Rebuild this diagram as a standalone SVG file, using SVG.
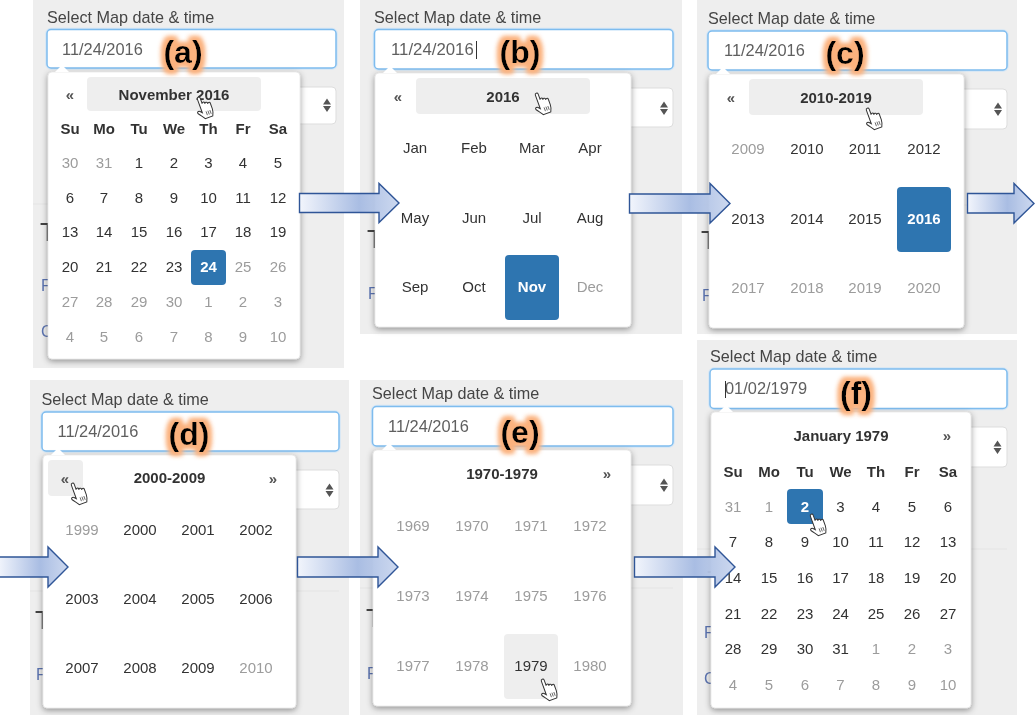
<svg xmlns="http://www.w3.org/2000/svg" width="1035" height="715" viewBox="0 0 1035 715">
<style>
text{font-family:"Liberation Sans",Arial,sans-serif}
.panel{filter:url(#soft)}
.pn{fill:#eee}
.dv{stroke:#e4e4e4;stroke-width:1}
.sel{fill:#fff;stroke:#ddd;stroke-width:1}
.inp{fill:#fff;stroke:#7ebcee;stroke-width:1.5}
.ing{fill:none;stroke:#d4e6f6;stroke-width:3.5}
.pop{fill:#fff;stroke:#d8d8d8;stroke-width:.5;filter:url(#sh)}
.car{fill:#fff}
.ar{fill:#555}
.hv{fill:#eee}
.act{fill:#2f74b0}
.lb{font-size:16.2px;fill:#444}
.dt{font-size:16.4px;fill:#5f5f5f}
.tg{font-size:32px;font-weight:bold;fill:#000;text-anchor:middle;filter:url(#gl)}
.t{font-size:15px;fill:#333;text-anchor:middle}
.g{font-size:15px;fill:#9c9c9c;text-anchor:middle}
.b{font-size:15px;font-weight:bold;fill:#333;text-anchor:middle}
.w{font-size:15px;font-weight:bold;fill:#fff;text-anchor:middle}
.n{font-size:15px;fill:#555;text-anchor:middle;font-weight:bold}
.big{font-size:26px;fill:#444}
.lk{font-size:16px;fill:#5b73b0}
.cu{stroke:#333;stroke-width:1}
.arw{fill:url(#ag);stroke:#2f5597;stroke-width:1.4}
.hand{fill:#fff;stroke:#333;stroke-width:1}
.hl{fill:none;stroke:#555;stroke-width:.8}
</style>
<defs>
<filter id="soft" x="-2%" y="-2%" width="104%" height="104%"><feGaussianBlur stdDeviation=".4"/></filter>
<filter id="sh" x="-10%" y="-10%" width="120%" height="120%"><feDropShadow dx="0" dy="2" stdDeviation="3" flood-color="#000" flood-opacity=".4"/></filter>
<filter id="gl" x="-40%" y="-40%" width="180%" height="180%"><feMorphology in="SourceAlpha" operator="dilate" radius="2.500"/><feGaussianBlur stdDeviation="2.400" result="b"/><feFlood flood-color="#fbb27e"/><feComposite in2="b" operator="in" result="c"/><feMerge><feMergeNode in="c"/><feMergeNode in="c"/><feMergeNode in="SourceGraphic"/></feMerge></filter>
<linearGradient id="ag" x1="0" y1="0" x2="1" y2="0"><stop offset="0" stop-color="#f2f5fc"/><stop offset=".6" stop-color="#a9bde3"/><stop offset="1" stop-color="#c3d1ec" stop-opacity=".85"/></linearGradient>
<g id="hnd"><g transform="rotate(-20)"><path class="hand" d="M-4.500-10c0-2 3-2 3 0v6c0-1.600 2.600-1.600 2.600 0v1c0-1.500 2.600-1.500 2.600 0v1c0-1.400 2.600-1.400 2.600 0v6c0 3-1 5-2 7h-8c-1-2-3-4-5-7-1-1.500 1-3 2.500-1.500l1.700 2z"/><path class="hl" d="M-.5 4.500v4M1.500 4.500v4M3.500 4.500v4"/></g></g>
<g id="spin"><path class="ar" d="M0-6.500l4 6h-8zM0 7l4-6h-8z"/></g>
</defs>
<g id="panel-a" class="panel">
<rect class="pn" x="33" y="0" width="311" height="368"/>
<line class="dv" x1="33" y1="204" x2="336" y2="204"/>
<text class="big" x="40" y="241">T</text>
<text class="lk" x="41" y="291">F</text>
<text class="lk" x="41" y="337">C</text>
<rect class="sel" x="280" y="87" width="56" height="37" rx="4"/>
<use href="#spin" x="327" y="105"/>
<text class="lb" x="47" y="23">Select Map date &amp; time</text>
<rect class="ing" x="47" y="29.500" width="289" height="38.500" rx="4"/>
<rect class="inp" x="47" y="29.500" width="289" height="38.500" rx="4"/>
<text class="dt" x="62" y="54.500">11/24/2016</text>
<rect class="pop" x="48" y="72" width="252" height="287" rx="4"/>
<path class="car" d="M55 72l7-7 7 7z"/>
<rect class="hv" x="87" y="77" width="174" height="34" rx="4"/>
<text class="n" x="70" y="100">«</text>
<text class="b" x="174" y="100">November 2016</text>
<text class="b" x="70" y="134">Su</text><text class="b" x="104" y="134">Mo</text><text class="b" x="139" y="134">Tu</text><text class="b" x="174" y="134">We</text><text class="b" x="208.500" y="134">Th</text><text class="b" x="243" y="134">Fr</text><text class="b" x="278" y="134">Sa</text>
<text class="g" x="70" y="168">30</text><text class="g" x="104" y="168">31</text><text class="t" x="139" y="168">1</text><text class="t" x="174" y="168">2</text><text class="t" x="208.500" y="168">3</text><text class="t" x="243" y="168">4</text><text class="t" x="278" y="168">5</text>
<text class="t" x="70" y="203">6</text><text class="t" x="104" y="203">7</text><text class="t" x="139" y="203">8</text><text class="t" x="174" y="203">9</text><text class="t" x="208.500" y="203">10</text><text class="t" x="243" y="203">11</text><text class="t" x="278" y="203">12</text>
<text class="t" x="70" y="237">13</text><text class="t" x="104" y="237">14</text><text class="t" x="139" y="237">15</text><text class="t" x="174" y="237">16</text><text class="t" x="208.500" y="237">17</text><text class="t" x="243" y="237">18</text><text class="t" x="278" y="237">19</text>
<rect class="act" x="191" y="250" width="35" height="35" rx="4"/>
<text class="t" x="70" y="272">20</text><text class="t" x="104" y="272">21</text><text class="t" x="139" y="272">22</text><text class="t" x="174" y="272">23</text><text class="w" x="208.500" y="272">24</text><text class="g" x="243" y="272">25</text><text class="g" x="278" y="272">26</text>
<text class="g" x="70" y="307">27</text><text class="g" x="104" y="307">28</text><text class="g" x="139" y="307">29</text><text class="g" x="174" y="307">30</text><text class="g" x="208.500" y="307">1</text><text class="g" x="243" y="307">2</text><text class="g" x="278" y="307">3</text>
<text class="g" x="70" y="341.500">4</text><text class="g" x="104" y="341.500">5</text><text class="g" x="139" y="341.500">6</text><text class="g" x="174" y="341.500">7</text><text class="g" x="208.500" y="341.500">8</text><text class="g" x="243" y="341.500">9</text><text class="g" x="278" y="341.500">10</text>
<use href="#hnd" x="205" y="107"/>
<text class="tg" x="183" y="63">(a)</text>
</g>
<g id="panel-b" class="panel">
<rect class="pn" x="360" y="0" width="322" height="334"/>
<line class="dv" x1="360" y1="205" x2="673" y2="205"/>
<text class="big" x="367" y="248">T</text>
<text class="lk" x="368" y="299">F</text>
<rect class="sel" x="610" y="88" width="63" height="39" rx="4"/>
<use href="#spin" x="664" y="108"/>
<text class="lb" x="374" y="23">Select Map date &amp; time</text>
<rect class="ing" x="374.500" y="29.500" width="298.500" height="39.500" rx="4"/>
<rect class="inp" x="374.500" y="29.500" width="298.500" height="39.500" rx="4"/>
<text class="dt" x="391" y="55" style="font-size:16.8px">11/24/2016</text>
<line class="cu" x1="476.500" y1="41" x2="476.500" y2="59"/>
<rect class="pop" x="375" y="73" width="256" height="254" rx="4"/>
<path class="car" d="M383 73l7-7 7 7z"/>
<rect class="hv" x="416" y="78" width="174" height="36" rx="4"/>
<text class="n" x="398" y="102">«</text>
<text class="b" x="503" y="101.500">2016</text>
<text class="t" x="415" y="153">Jan</text><text class="t" x="474" y="153">Feb</text><text class="t" x="532" y="153">Mar</text><text class="t" x="590" y="153">Apr</text>
<text class="t" x="415" y="222.500">May</text><text class="t" x="474" y="222.500">Jun</text><text class="t" x="532" y="222.500">Jul</text><text class="t" x="590" y="222.500">Aug</text>
<rect class="act" x="505" y="255" width="54" height="65" rx="4"/>
<text class="t" x="415" y="292">Sep</text><text class="t" x="474" y="292">Oct</text><text class="w" x="532" y="292">Nov</text><text class="g" x="590" y="292">Dec</text>
<use href="#hnd" x="543" y="103"/>
<text class="tg" x="520" y="63">(b)</text>
</g>
<g id="panel-c" class="panel">
<rect class="pn" x="697" y="0" width="320" height="334"/>
<line class="dv" x1="697" y1="205" x2="1007" y2="205"/>
<text class="big" x="701" y="249">T</text>
<text class="lk" x="702" y="301">F</text>
<rect class="sel" x="945" y="89" width="62" height="40" rx="4"/>
<use href="#spin" x="998" y="109"/>
<text class="lb" x="708" y="24">Select Map date &amp; time</text>
<rect class="ing" x="708" y="31" width="299" height="39" rx="4"/>
<rect class="inp" x="708" y="31" width="299" height="39" rx="4"/>
<text class="dt" x="724" y="56">11/24/2016</text>
<rect class="pop" x="709" y="74" width="255" height="254" rx="4"/>
<path class="car" d="M716 74l7-7 7 7z"/>
<rect class="hv" x="749" y="79" width="174" height="36" rx="4"/>
<text class="n" x="731" y="103">«</text>
<text class="b" x="836" y="102.500">2010-2019</text>
<text class="g" x="748" y="154">2009</text><text class="t" x="807" y="154">2010</text><text class="t" x="865" y="154">2011</text><text class="t" x="924" y="154">2012</text>
<rect class="act" x="897" y="187" width="54" height="65" rx="4"/>
<text class="t" x="748" y="223.500">2013</text><text class="t" x="807" y="223.500">2014</text><text class="t" x="865" y="223.500">2015</text><text class="w" x="924" y="223.500">2016</text>
<text class="g" x="748" y="293">2017</text><text class="g" x="807" y="293">2018</text><text class="g" x="865" y="293">2019</text><text class="g" x="924" y="293">2020</text>
<use href="#hnd" x="874" y="118"/>
<text class="tg" x="845" y="63.500">(c)</text>
</g>
<g id="panel-d" class="panel">
<rect class="pn" x="30" y="380" width="319" height="335"/>
<line class="dv" x1="30" y1="591" x2="339" y2="591"/>
<text class="big" x="35" y="629">T</text>
<text class="lk" x="36" y="680">F</text>
<rect class="sel" x="280" y="470" width="59" height="39" rx="4"/>
<use href="#spin" x="329.500" y="490"/>
<text class="lb" x="41.500" y="405">Select Map date &amp; time</text>
<rect class="ing" x="42" y="412" width="297" height="39" rx="4"/>
<rect class="inp" x="42" y="412" width="297" height="39" rx="4"/>
<text class="dt" x="57.500" y="437">11/24/2016</text>
<rect class="pop" x="43" y="455" width="253" height="253" rx="4"/>
<path class="car" d="M51 455l7-7 7 7z"/>
<rect class="hv" x="48" y="460" width="35" height="36" rx="4"/>
<text class="n" x="65" y="484">«</text>
<text class="b" x="169.500" y="483">2000-2009</text>
<text class="n" x="273" y="484">»</text>
<text class="g" x="82" y="534.500">1999</text><text class="t" x="140" y="534.500">2000</text><text class="t" x="198" y="534.500">2001</text><text class="t" x="256" y="534.500">2002</text>
<text class="t" x="82" y="603.500">2003</text><text class="t" x="140" y="603.500">2004</text><text class="t" x="198" y="603.500">2005</text><text class="t" x="256" y="603.500">2006</text>
<text class="t" x="82" y="672.500">2007</text><text class="t" x="140" y="672.500">2008</text><text class="t" x="198" y="672.500">2009</text><text class="g" x="256" y="672.500">2010</text>
<use href="#hnd" x="79" y="493"/>
<text class="tg" x="189" y="445">(d)</text>
</g>
<g id="panel-e" class="panel">
<rect class="pn" x="360" y="380" width="323" height="335"/>
<line class="dv" x1="360" y1="588" x2="673" y2="588"/>
<text class="big" x="366" y="627">T</text>
<text class="lk" x="367" y="679">F</text>
<rect class="sel" x="610" y="465" width="63" height="40" rx="4"/>
<use href="#spin" x="664" y="485"/>
<text class="lb" x="372" y="399">Select Map date &amp; time</text>
<rect class="ing" x="372.500" y="406.500" width="300.500" height="39.500" rx="4"/>
<rect class="inp" x="372.500" y="406.500" width="300.500" height="39.500" rx="4"/>
<text class="dt" x="388" y="432">11/24/2016</text>
<rect class="pop" x="373" y="450" width="258" height="256" rx="4"/>
<path class="car" d="M382 450l7-7 7 7z"/>
<text class="b" x="502" y="479">1970-1979</text>
<text class="n" x="607" y="479">»</text>
<text class="g" x="413" y="530.500">1969</text><text class="g" x="472" y="530.500">1970</text><text class="g" x="531" y="530.500">1971</text><text class="g" x="590" y="530.500">1972</text>
<text class="g" x="413" y="600.500">1973</text><text class="g" x="472" y="600.500">1974</text><text class="g" x="531" y="600.500">1975</text><text class="g" x="590" y="600.500">1976</text>
<rect class="hv" x="504" y="634" width="54" height="65" rx="4"/>
<text class="g" x="413" y="670.500">1977</text><text class="g" x="472" y="670.500">1978</text><text class="t" x="531" y="670.500">1979</text><text class="g" x="590" y="670.500">1980</text>
<use href="#hnd" x="549" y="689"/>
<text class="tg" x="520" y="443">(e)</text>
</g>
<g id="panel-f" class="panel">
<rect class="pn" x="697" y="340" width="320" height="375"/>
<line class="dv" x1="697" y1="549" x2="1007" y2="549"/>
<text class="big" x="707" y="589">T</text>
<text class="lk" x="704" y="638">F</text>
<text class="lk" x="704" y="684">C</text>
<rect class="sel" x="950" y="427" width="57" height="40" rx="4"/>
<use href="#spin" x="997.500" y="447"/>
<text class="lb" x="710" y="362">Select Map date &amp; time</text>
<rect class="ing" x="710" y="369" width="297" height="39.500" rx="4"/>
<rect class="inp" x="710" y="369" width="297" height="39.500" rx="4"/>
<text class="dt" x="725" y="394">01/02/1979</text>
<line class="cu" x1="725.500" y1="381" x2="725.500" y2="398"/>
<rect class="pop" x="711" y="412" width="260" height="296" rx="4"/>
<path class="car" d="M719 412l7-7 7 7z"/>
<text class="b" x="841" y="441">January 1979</text>
<text class="n" x="947" y="441">»</text>
<text class="b" x="733" y="477">Su</text><text class="b" x="769" y="477">Mo</text><text class="b" x="805" y="477">Tu</text><text class="b" x="840.500" y="477">We</text><text class="b" x="876" y="477">Th</text><text class="b" x="912" y="477">Fr</text><text class="b" x="948" y="477">Sa</text>
<rect class="act" x="787" y="489" width="36" height="35" rx="4"/>
<text class="g" x="733" y="511.500">31</text><text class="g" x="769" y="511.500">1</text><text class="w" x="805" y="511.500">2</text><text class="t" x="840.500" y="511.500">3</text><text class="t" x="876" y="511.500">4</text><text class="t" x="912" y="511.500">5</text><text class="t" x="948" y="511.500">6</text>
<text class="t" x="733" y="547">7</text><text class="t" x="769" y="547">8</text><text class="t" x="805" y="547">9</text><text class="t" x="840.500" y="547">10</text><text class="t" x="876" y="547">11</text><text class="t" x="912" y="547">12</text><text class="t" x="948" y="547">13</text>
<text class="t" x="733" y="582.500">14</text><text class="t" x="769" y="582.500">15</text><text class="t" x="805" y="582.500">16</text><text class="t" x="840.500" y="582.500">17</text><text class="t" x="876" y="582.500">18</text><text class="t" x="912" y="582.500">19</text><text class="t" x="948" y="582.500">20</text>
<text class="t" x="733" y="618.500">21</text><text class="t" x="769" y="618.500">22</text><text class="t" x="805" y="618.500">23</text><text class="t" x="840.500" y="618.500">24</text><text class="t" x="876" y="618.500">25</text><text class="t" x="912" y="618.500">26</text><text class="t" x="948" y="618.500">27</text>
<text class="t" x="733" y="654">28</text><text class="t" x="769" y="654">29</text><text class="t" x="805" y="654">30</text><text class="t" x="840.500" y="654">31</text><text class="g" x="876" y="654">1</text><text class="g" x="912" y="654">2</text><text class="g" x="948" y="654">3</text>
<text class="g" x="733" y="689.500">4</text><text class="g" x="769" y="689.500">5</text><text class="g" x="805" y="689.500">6</text><text class="g" x="840.500" y="689.500">7</text><text class="g" x="876" y="689.500">8</text><text class="g" x="912" y="689.500">9</text><text class="g" x="948" y="689.500">10</text>
<use href="#hnd" x="818" y="524"/>
<text class="tg" x="856" y="404">(f)</text>
</g>
<g id="connectors">
<path class="arw" d="M299.500 193.500H379V183.500L399 203 379 222.500V212.500H299.500z"/>
<path class="arw" d="M629.500 194H710V183.500L730 203.500 710 223V213H629.500z"/>
<path class="arw" d="M967.500 193.500H1014V183.500L1034 203.500 1014 223V213H967.500z"/>
<path class="arw" d="M-2 557H48V547L68 567 48 587V577H-2z"/>
<path class="arw" d="M297.500 557H378V547L398 567 378 587V577H297.500z"/>
<path class="arw" d="M634.500 557H715V547L735 567 715 587V577H634.500z"/>
</g>
</svg>
